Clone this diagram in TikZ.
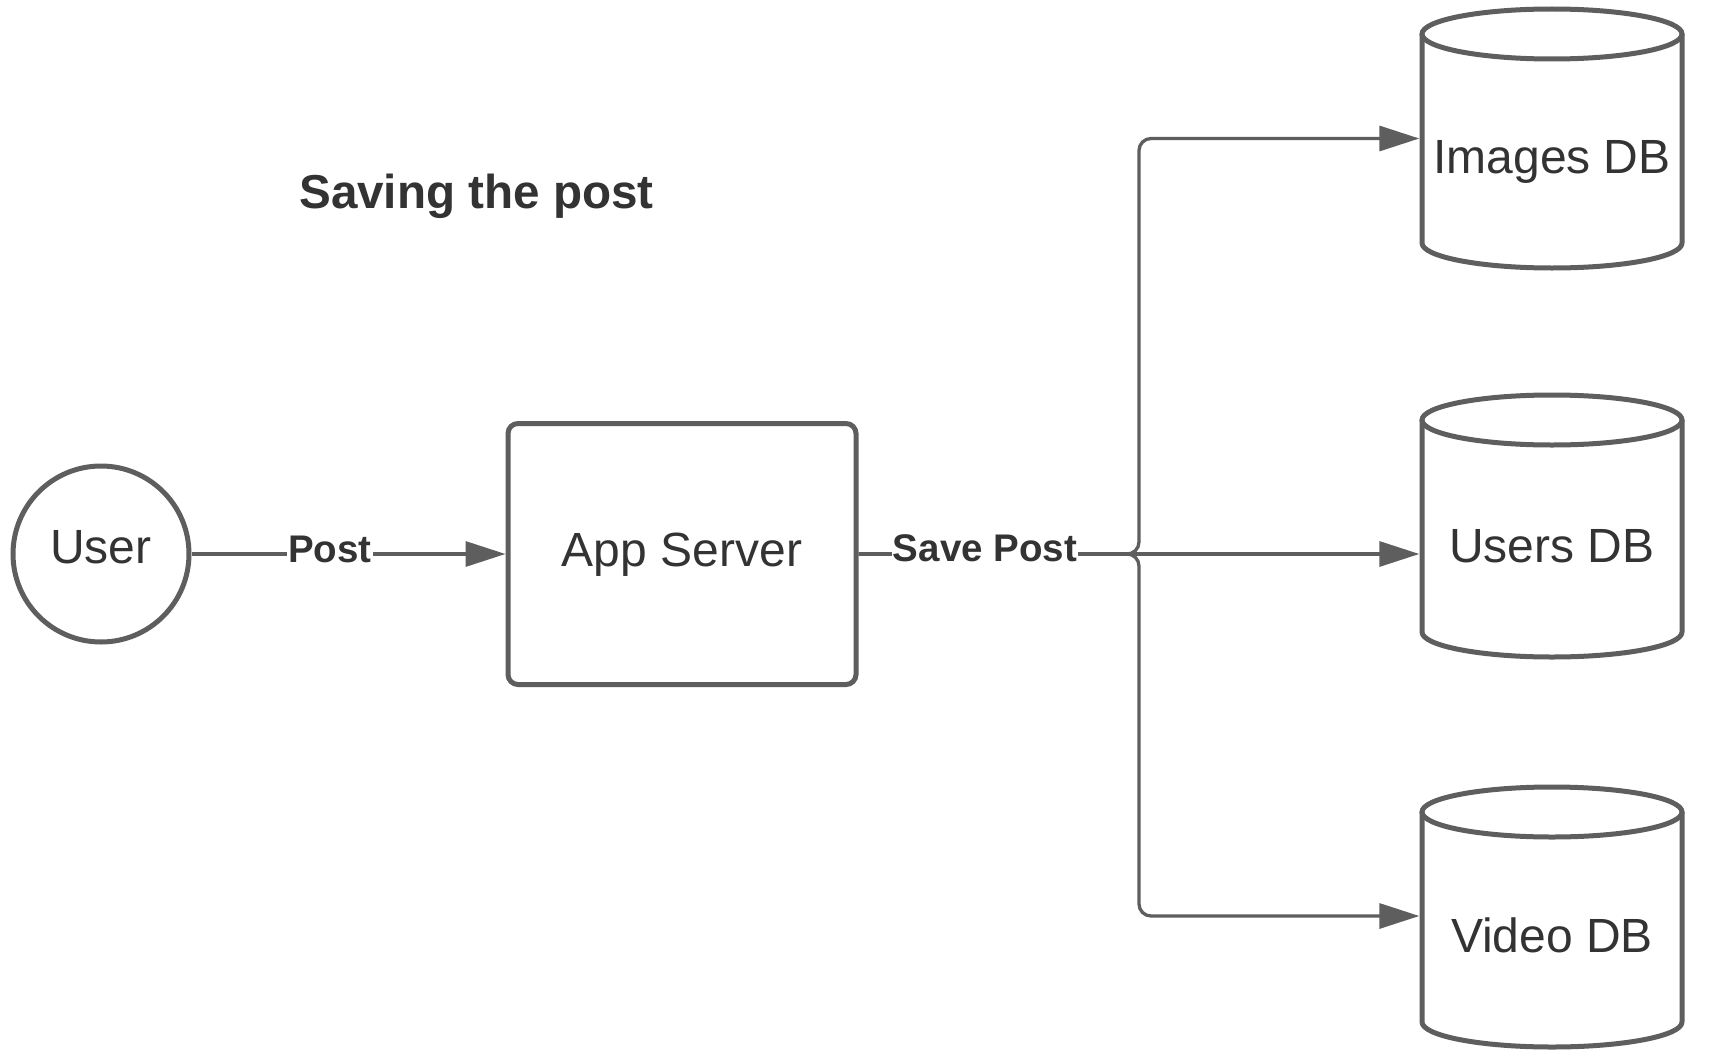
\documentclass[tikz,border=0pt]{standalone}
\usepackage{fontspec}
\setmainfont{Liberation Sans}
\usetikzlibrary{arrows.meta}
\definecolor{ln}{RGB}{94,94,94}
\definecolor{tx}{RGB}{51,51,51}
\newcommand\mydbcyl[2]{%
  \draw[shapeline, line join=round] (1422,#1) -- (1422,#2)
    arc[start angle=180, end angle=0, x radius=130, y radius=25] -- (1682,#1);
  \draw[shapeline] (1552,#1) ellipse[x radius=130, y radius=25];
}
\begin{document}
\begin{tikzpicture}[x=1pt,y=-1pt,
  shapeline/.style={draw=ln, line width=5pt},
  conn/.style={draw=ln, line width=3.3pt, -{Triangle[length=40pt,width=25pt]}},
  big/.style={font=\fontsize{48}{56}\selectfont, text=tx, inner sep=0pt},
  lbl/.style={font=\bfseries\fontsize{38.5}{46}\selectfont, text=tx, fill=white,
              inner xsep=1pt, inner ysep=3pt, anchor=base},
  ttl/.style={font=\bfseries\fontsize{47.6}{56}\selectfont, text=tx, inner sep=0pt, anchor=base},
]
\useasboundingbox[fill=white] (0,0) rectangle (1711,1057);

% title
\node[ttl] (title) at (476.5,208) {Saving the post};

% user
\node[shapeline, circle, minimum size=176pt, inner sep=0pt] (user) at (101,554) {};
\node[big, anchor=base] (usertxt) at (101,563) {User};

% app server
\node[shapeline, rectangle, rounded corners=10pt, minimum width=348pt,
      minimum height=261pt, inner sep=0pt] (app) at (682,554) {};
\node[big, anchor=base] (apptxt) at (682,566) {App Server};

% databases (shape outlines)
\mydbcyl{34}{243}
\mydbcyl{420}{632}
\mydbcyl{812}{1022}
\node[inner sep=0pt, minimum width=265pt, minimum height=264pt] (imgdb) at (1552,138.5) {};
\node[inner sep=0pt, minimum width=265pt, minimum height=264pt] (usrdb) at (1552,525) {};
\node[inner sep=0pt, minimum width=265pt, minimum height=264pt] (viddb) at (1552,916) {};
\node[big, anchor=base] (imgtxt) at (1552,173) {Images DB};
\node[big, anchor=base] (usrtxt) at (1552,562) {Users DB};
\node[big, anchor=base] (vidtxt) at (1552,952) {Video DB};

% connectors
\coordinate (jn) at (1139,554);
\draw[conn] (user) -- (app);
\draw[conn, rounded corners=12pt] (app.east) -- (jn) |- (imgdb.west);
\draw[conn, rounded corners=12pt] (app.east) -- (jn) |- (viddb.west);
\draw[conn] (app.east) -- (usrdb.west |- app.east);

% labels
\node[lbl] (postlbl) at (330,562) {Post};
\node[lbl] (savelbl) at (985,561) {Save Post};
\end{tikzpicture}
\end{document}
